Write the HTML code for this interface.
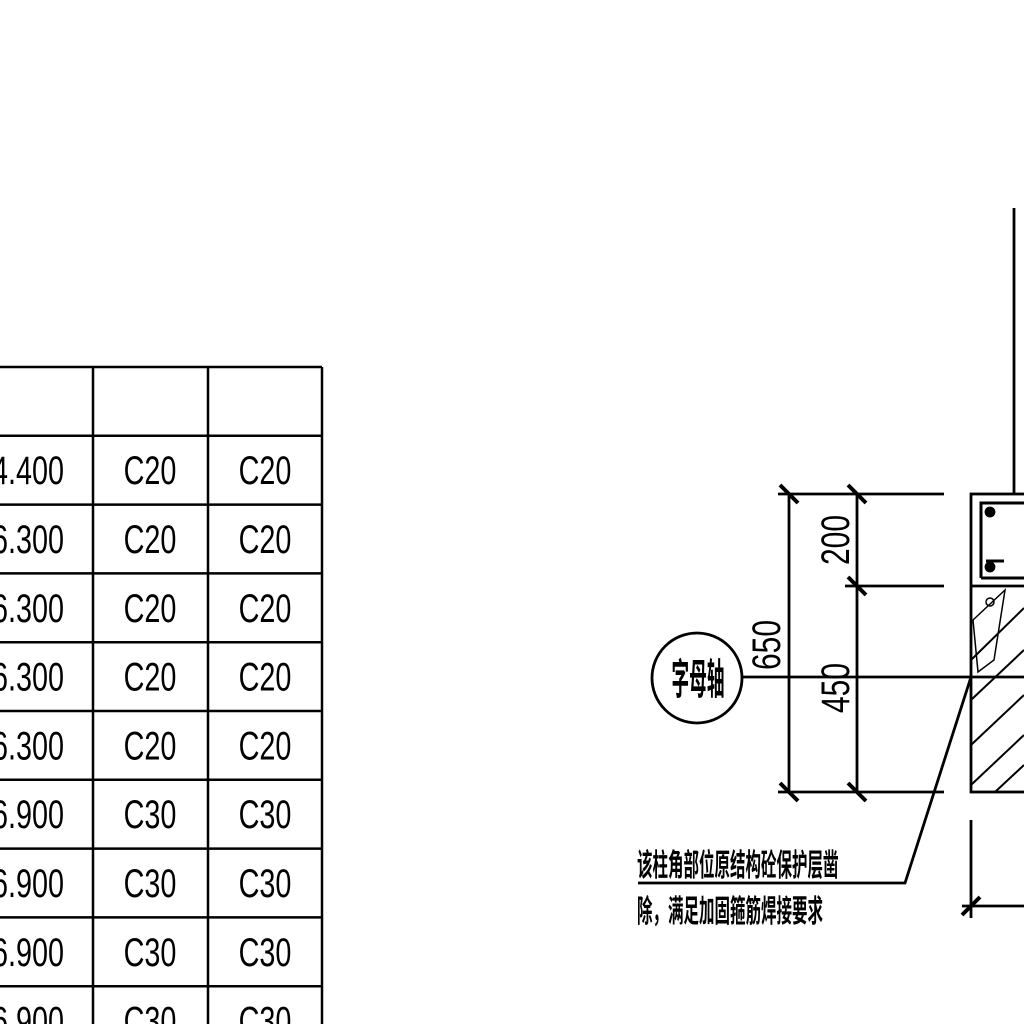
<!DOCTYPE html>
<html><head><meta charset="utf-8"><style>
html,body{margin:0;padding:0;background:#fff;}
svg{display:block;}
text{font-family:"Liberation Sans","Noto Sans CJK SC",sans-serif;fill:#000;}
</style></head><body>
<svg width="1024" height="1024" viewBox="0 0 1024 1024">
<g id="table" stroke="#000" stroke-width="2.5"></g>
<g stroke="#000" stroke-width="2.8" fill="none">
  <line x1="1014" y1="208" x2="1014" y2="494"/>
  <rect x="971" y="494" width="60" height="298"/>
  <line x1="971" y1="586" x2="1024" y2="586"/>
  <path d="M981 578 V503 H1024 M981 578 H1024 M986 561 H1004" stroke-width="3"/>
  <circle cx="990" cy="512" r="4" fill="#000"/>
  <circle cx="990" cy="567" r="4" fill="#000"/>
  <path d="M973 620 L1005 590 L994 660 L978 672 Z" stroke-width="1.5"/>
  <circle cx="990" cy="602" r="4" stroke-width="1.5"/>
  <g stroke-width="2">
    <line x1="971" y1="660" x2="1024" y2="608"/>
    <line x1="971" y1="700" x2="1024" y2="650"/>
    <line x1="971" y1="745" x2="1024" y2="695"/>
    <line x1="971" y1="785" x2="1024" y2="735"/>
    <line x1="995" y1="792" x2="1024" y2="765"/>
  </g>
  <line x1="742" y1="677" x2="1024" y2="677"/>
  <circle cx="697" cy="678" r="45"/>
  <line x1="789" y1="494" x2="789" y2="792"/>
  <line x1="857" y1="494" x2="857" y2="792"/>
  <line x1="778" y1="494" x2="944" y2="494"/>
  <line x1="845" y1="586" x2="944" y2="586"/>
  <line x1="778" y1="792" x2="944" y2="792"/>
  <g stroke-width="4">
    <line x1="780" y1="485" x2="798" y2="503"/><line x1="848" y1="485" x2="866" y2="503"/>
    <line x1="848" y1="577" x2="866" y2="595"/>
    <line x1="780" y1="783" x2="798" y2="801"/><line x1="848" y1="783" x2="866" y2="801"/>
    <line x1="962" y1="915" x2="980" y2="897"/>
  </g>
  <polyline points="971,677 905,883 638,883"/>
  <line x1="971" y1="820" x2="971" y2="918"/>
  <line x1="962" y1="906" x2="1024" y2="906"/>
</g>
<g>
  <text transform="translate(780,645) rotate(-90) scale(0.75,1)" font-size="40" text-anchor="middle">650</text>
  <text transform="translate(849,540) rotate(-90) scale(0.75,1)" font-size="40" text-anchor="middle">200</text>
  <text transform="translate(849,688) rotate(-90) scale(0.75,1)" font-size="40" text-anchor="middle">450</text>
  <text transform="translate(698,694) scale(0.42,1)" font-size="42" font-weight="bold" text-anchor="middle">字母轴</text>
  <text transform="translate(637,876) scale(0.5,1)" font-size="31" font-weight="bold">该柱角部位原结构砼保护层凿</text>
  <text transform="translate(637,922) scale(0.5,1)" font-size="31" font-weight="bold">除，满足加固箍筋焊接要求</text>
</g>
<script>
const colA = ["4.400","6.300","6.300","6.300","6.300","6.900","6.900","6.900","6.900"];
const colB = ["C20","C20","C20","C20","C20","C30","C30","C30","C30"];
const colC = ["C20","C20","C20","C20","C20","C30","C30","C30","C30"];
const ns="http://www.w3.org/2000/svg";
const svg=document.querySelector('svg');
const t=document.getElementById('table');
const top0=367, rh=68.8, xs=[93,208,322];
const n=colA.length+1;
function ln(x1,y1,x2,y2){const l=document.createElementNS(ns,'line');l.setAttribute('x1',x1);l.setAttribute('y1',y1);l.setAttribute('x2',x2);l.setAttribute('y2',y2);


t.appendChild(l);}
for(let i=0;i<=n;i++){const y=top0+i*rh;if(y<1024)ln(0,y,322,y);}
xs.forEach(x=>ln(x,top0,x,1024));
function tx(s,cx,cy,anchor){const e=document.createElementNS(ns,'text');
e.setAttribute('transform',`translate(${cx},${cy}) scale(0.72,1)`);
e.setAttribute('font-size','40');e.setAttribute('text-anchor',anchor);e.textContent=s;


svg.appendChild(e);}
colA.forEach((v,i)=>{const cy=top0+(i+1)*rh+rh/2+14;tx(v,64,cy,'end');tx(colB[i],150,cy,'middle');tx(colC[i],265,cy,'middle');});
</script>
</svg>
</body></html>
